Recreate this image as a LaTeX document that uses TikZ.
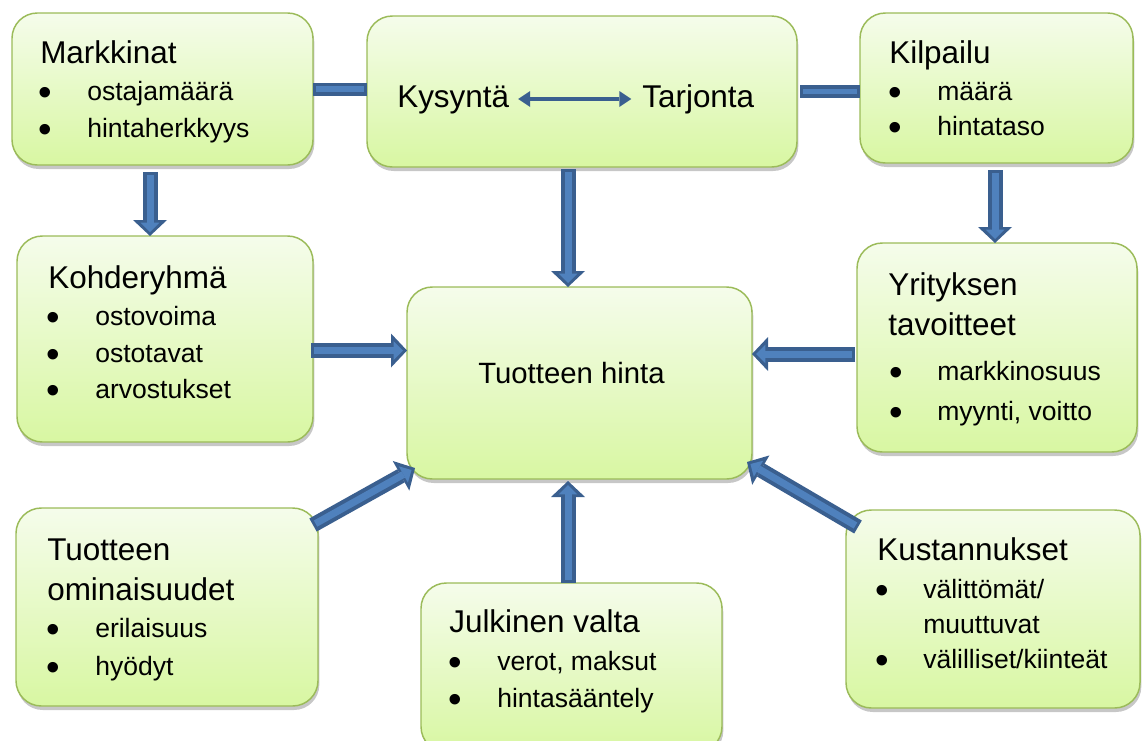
\documentclass[tikz,border=0pt]{standalone}
\usepackage{fontspec}
\setmainfont{Liberation Sans}
\usetikzlibrary{arrows.meta,shadows,calc}
\definecolor{boxtop}{HTML}{F5FCEB}
\definecolor{boxbot}{HTML}{D8F7A2}
\definecolor{boxline}{HTML}{9BBB59}
\definecolor{arrdark}{HTML}{3A5F8F}
\definecolor{arrlight}{HTML}{4F81BD}
\tikzset{
  box/.style={rounded corners=19pt, draw=boxline, line width=1.1pt,
    top color=boxtop, bottom color=boxbot, inner sep=0pt, outer sep=0pt,
    drop shadow={opacity=0.22, shadow xshift=1pt, shadow yshift=-3pt, fill=black}},
  ttl/.style={anchor=base west, inner sep=0pt, font=\fontsize{23.6}{28}\selectfont},
  mid/.style={anchor=base west, inner sep=0pt, font=\fontsize{22}{26}\selectfont},
  itm/.style={anchor=base west, inner sep=0pt, font=\fontsize{19.9}{24}\selectfont},
  bul/.style={anchor=base, inner sep=0pt, yshift=-4.3pt, font=\fontsize{29}{30}\selectfont},
  blkout/.style={line width=11.25pt, draw=arrdark,
    -{Triangle[length=12pt,width=25.5pt,line width=0pt]}},
  blkin/.style={line width=5.25pt, draw=arrlight, shorten <=2.2pt, shorten >=3pt,
    -{Triangle[length=7pt,width=14pt,line width=0pt]}},
  barout/.style={line width=9.75pt, draw=arrdark},
  barin/.style={line width=4.2pt, draw=arrlight, shorten <=2pt, shorten >=2pt},
  dbl/.style={line width=3.2pt, draw=arrdark,
    {Triangle[length=9pt,width=12pt,line width=0pt]}-{Triangle[length=9pt,width=12pt,line width=0pt]}}
}
\newcommand\mybox[5]{\node[box, anchor=north west, minimum width={(#4-#2)*0.75pt},
  minimum height={(#5-#3)*0.75pt}] (#1) at (#2,#3) {};}
\newcommand\blk[2]{\draw[blkout] #1 -- #2; \draw[blkin] #1 -- #2;}
\newcommand\plainbar[2]{\draw[barout] #1 -- #2; \draw[barin] #1 -- #2;}
\begin{document}
\begin{tikzpicture}[x=0.75pt, y=-0.75pt]
\useasboundingbox (0,0) rectangle (1145,740);
% boxes
\mybox{mark}{12}{13}{313}{165}
\mybox{kys}{367}{16}{797}{167}
\mybox{kil}{860}{13}{1133}{163}
\mybox{koh}{17}{236}{313}{442}
\mybox{hin}{407}{287}{752}{479}
\mybox{yri}{857}{243}{1137}{452}
\mybox{omi}{16}{508}{318}{706}
\mybox{jul}{421}{583}{722}{752}
\mybox{kus}{846}{510}{1140}{708}
% texts
\node[ttl] (markT) at (40,63) {Markkinat};
\node[bul] (markB1) at (45,100) {•};
\node[itm] (markI1) at (87,100) {ostajamäärä};
\node[bul] (markB2) at (45,137) {•};
\node[itm] (markI2) at (87,137) {hintaherkkyys};

\node[ttl] (kysT) at (397,107) {Kysyntä};
\node[ttl] (tarT) at (642,107) {Tarjonta};

\node[ttl] (kilT) at (889,63) {Kilpailu};
\node[bul] (kilB1) at (895,100) {•};
\node[itm] (kilI1) at (937,100) {määrä};
\node[bul] (kilB2) at (895,135) {•};
\node[itm] (kilI2) at (937,135) {hintataso};

\node[ttl] (kohT) at (48,288) {Kohderyhmä};
\node[bul] (kohB1) at (53,325) {•};
\node[itm] (kohI1) at (95,325) {ostovoima};
\node[bul] (kohB2) at (53,362) {•};
\node[itm] (kohI2) at (95,362) {ostotavat};
\node[bul] (kohB3) at (53,398) {•};
\node[itm] (kohI3) at (95,398) {arvostukset};

\node[mid] (hinT) at (478,383) {Tuotteen hinta};

\node[ttl] (yriT1) at (888,295) {Yrityksen};
\node[ttl] (yriT2) at (888,335) {tavoitteet};
\node[bul] (yriB1) at (896,380) {•};
\node[itm] (yriI1) at (937,380) {markkinosuus};
\node[bul] (yriB2) at (896,420) {•};
\node[itm] (yriI2) at (937,420) {myynti, voitto};

\node[ttl] (omiT1) at (47,560) {Tuotteen};
\node[ttl] (omiT2) at (47,600) {ominaisuudet};
\node[bul] (omiB1) at (53,637) {•};
\node[itm] (omiI1) at (95,637) {erilaisuus};
\node[bul] (omiB2) at (53,675) {•};
\node[itm] (omiI2) at (95,675) {hyödyt};

\node[ttl] (julT) at (449,632) {Julkinen valta};
\node[bul] (julB1) at (455,670) {•};
\node[itm] (julI1) at (497,670) {verot, maksut};
\node[bul] (julB2) at (455,707) {•};
\node[itm] (julI2) at (497,707) {hintasääntely};

\node[ttl] (kusT) at (877,560) {Kustannukset};
\node[bul] (kusB1) at (882,598) {•};
\node[itm] (kusI1) at (923,598) {välittömät/};
\node[itm] (kusI1b) at (923,633) {muuttuvat};
\node[bul] (kusB2) at (882,668) {•};
\node[itm] (kusI2) at (923,668) {välilliset/kiinteät};

% connectors
\draw[dbl, shorten <=6.5pt, shorten >=8pt] ($(kysT.base east)+(0,-8)$) -- ($(tarT.base west)+(0,-8)$);
\plainbar{(mark.east)}{(mark.east -| kys.west)}
\coordinate (c2) at ($(kys.east)+(3,0)$);
\plainbar{(c2)}{(c2 -| kil.west)}

\coordinate (a3) at ($(mark.south)+(-12.5,7)$);
\blk{(a3)}{(a3 |- koh.north)}
\coordinate (a4) at ($(kil.south)+(-1.5,7)$);
\blk{(a4)}{(a4 |- yri.north)}
\coordinate (a5) at ($(kys.south)+(-14,2)$);
\blk{(a5)}{(a5 |- hin.north)}
\coordinate (a6) at ($(koh.east)+(-2,11.5)$);
\blk{(a6)}{(a6 -| hin.west)}
\coordinate (a7) at ($(yri.west)+(-2,6.5)$);
\blk{(a7)}{(a7 -| hin.east)}
\coordinate (a8s) at ($(omi.north east)+(-5,17)$);
\coordinate (a8e) at ($(hin.south west)+(8,-11)$);
\blk{(a8s)}{(a8e)}
\coordinate (a9) at ($(jul.north)+(-3.5,0)$);
\blk{(a9)}{($(a9 |- hin.south)+(0,2)$)}
\coordinate (a10s) at ($(kus.north west)+(12,17)$);
\coordinate (a10e) at ($(hin.south east)+(-5,-17)$);
\blk{(a10s)}{(a10e)}
\end{tikzpicture}
\end{document}
